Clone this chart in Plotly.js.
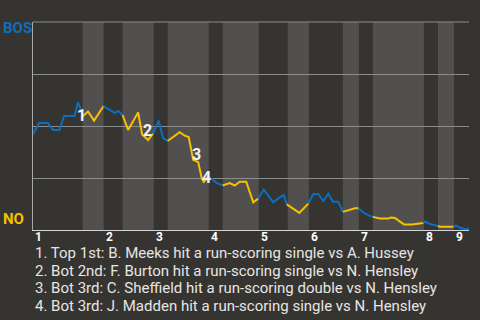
<!DOCTYPE html>
<html>
<head>
<meta charset="utf-8">
<script src="https://cdn.plot.ly/plotly-3.0.1.min.js"></script>
<style>
  html, body { margin: 0; padding: 0; background: #363430; }
  #chart { width: 480px; height: 320px; }
</style>
</head>
<body>
<div id="chart"></div>
<script>
// Win probability for BOS after each play (0 = NO wins, 100 = BOS wins)
const plays = [
  0, 1.2, 3.0, 4.0, 5.3, 6.2, 8.3, 9.0, 9.5, 9.9,
  11.0, 12.2, 14.1,
  15.3, 16.3, 17.1, 17.9,
  19.0, 21.0, 21.8, 23.0, 24.0,
  25.1, 26.0, 26.9,
  29.3, 30.3, 31.1, 32.0, 33.0, 33.7, 34.1, 35.1,
  36.6, 37.9,
  39.3, 40.3, 41.3, 42.6, 44.0, 45.0,
  46.1, 48.0, 49.0, 50.1, 50.7,
  51.3, 53.2, 55.0,
  56.0, 57.0, 58.0, 59.0, 59.9, 61.0, 61.9,
  63.0, 64.3, 65.0,
  66.0, 67.0, 67.9,
  69.3, 71.0, 71.5, 72.3, 73.3, 74.1, 75.7, 78.0,
  78.3, 79.3, 80.5, 80.9,
  81.3, 84.0,
  84.5, 85.3, 86.3, 87.1
];
const bosWp = [
  46.0, 51.4, 51.4, 48.1, 48.1, 54.8, 54.8, 61.5, 58.2, 54.6,
  57.0, 52.6, 59.6,
  58.0, 56.3, 57.2, 55.3,
  48.1, 56.5, 45.9, 43.3, 46.4,
  52.6, 44.1, 42.8,
  47.0, 45.4, 44.7, 33.7, 32.7, 24.9, 23.2, 25.7,
  22.8, 21.4,
  22.6, 21.4, 23.2, 23.2, 13.3, 15.1,
  19.5, 13.3, 15.2, 16.8, 12.3,
  11.3, 8.2, 12.7,
  17.3, 17.3, 13.9, 17.5, 13.6, 13.6, 8.7,
  9.4, 10.4, 10.4,
  8.4, 7.0, 6.3,
  5.5, 5.5, 6.0, 5.8, 4.3, 2.7, 2.7, 3.4,
  4.1, 2.9, 2.1, 1.9,
  1.6, 1.6,
  2.1, 1.1, 0.5, 0.5
];

// Play number where each half-inning begins (top 1st, bottom 1st, top 2nd, ...)
const halfStarts = [0, 9.9, 14.1, 17.9, 24.1, 26.9, 35.1, 37.9, 45.1, 50.9, 55.1, 61.9, 65.1, 67.9, 78.1, 80.9, 84.1];
const gameEnd = 87.1;
const inningLabels = ['1', '2', '3', '4', '5', '6', '7', '8', '9'];

const teams = ['BOS', 'NO'];

// Key scoring plays: index into the series, and the description
const keyPlayIdx = [7, 19, 28, 31];
const keyPlayText = [
  '1. Top 1st: B. Meeks hit a run-scoring single vs A. Hussey',
  '2. Bot 2nd: F. Burton hit a run-scoring single vs N. Hensley',
  '3. Bot 3rd: C. Sheffield hit a run-scoring double vs N. Hensley',
  '4. Bot 3rd: J. Madden hit a run-scoring single vs N. Hensley'
];

const BLUE = '#0b6fc1';
const GOLD = '#f7c000';
const GRID = '#8c8c8c';
const FONT = 'Roboto, "Open Sans", sans-serif';

function halfIndex(x) {
  let k = -1;
  halfStarts.forEach(s => { if (s < x) k++; });
  return k;
}

// Split the line into runs coloured by the team at bat
const traces = [];
let cur = null;
for (let i = 1; i < plays.length; i++) {
  const color = halfIndex(plays[i]) % 2 === 0 ? BLUE : GOLD;
  if (!cur || cur.line.color !== color) {
    cur = {
      type: 'scatter', mode: 'lines',
      x: [plays[i - 1]], y: [bosWp[i - 1]],
      line: { color: color, width: 2 },
      hoverinfo: 'skip', showlegend: false
    };
    traces.push(cur);
  }
  cur.x.push(plays[i]);
  cur.y.push(bosWp[i]);
}

// Shaded bands for the bottom halves
const shapes = [];
for (let k = 1; k < halfStarts.length; k += 2) {
  shapes.push({
    type: 'rect', layer: 'below',
    xref: 'x', yref: 'paper',
    x0: halfStarts[k], x1: k + 1 < halfStarts.length ? halfStarts[k + 1] : gameEnd,
    y0: 0, y1: 1,
    fillcolor: '#51504e', line: { width: 0 }
  });
}
// Top rule across the plot
shapes.push({
  type: 'line', layer: 'above', xref: 'paper', yref: 'paper',
  x0: 0, x1: 1, y0: 1, y1: 1,
  line: { color: GRID, width: 1 }
});

const annotations = [];

// Team labels at the ends of the scale
annotations.push({
  xref: 'paper', yref: 'paper', x: 0, y: 0.972, xshift: -32,
  xanchor: 'left', yanchor: 'middle', showarrow: false,
  text: '<b>' + teams[0] + '</b>', font: { family: FONT, size: 15, color: BLUE }
});
annotations.push({
  xref: 'paper', yref: 'paper', x: 0, y: 0.0505, xshift: -32,
  xanchor: 'left', yanchor: 'middle', showarrow: false,
  text: '<b>' + teams[1] + '</b>', font: { family: FONT, size: 15, color: GOLD }
});

// Inning numbers at the start of each top half
inningLabels.forEach((lab, i) => {
  annotations.push({
    xref: 'x', yref: 'paper', x: halfStarts[i * 2], y: -0.032,
    xanchor: 'left', yanchor: 'middle', showarrow: false,
    text: '<b>' + lab + '</b>', font: { family: FONT, size: 12, color: '#ffffff' }
  });
});

// Numbered markers next to the key plays
const markerShift = [[3, -13], [5, 4.5], [3.2, 5.8], [3.2, 3.9]];
keyPlayIdx.forEach((idx, i) => {
  annotations.push({
    xref: 'x', yref: 'y', x: plays[idx], y: bosWp[idx],
    xshift: markerShift[i][0], yshift: markerShift[i][1],
    xanchor: 'center', yanchor: 'middle', showarrow: false,
    text: '<b>' + (i + 1) + '</b>', font: { family: FONT, size: 16, color: '#f4f4f4' }
  });
});

// Descriptions of the key plays below the chart
const noteY = [-0.109, -0.195, -0.281, -0.367];
keyPlayText.forEach((t, i) => {
  annotations.push({
    xref: 'paper', yref: 'paper', x: 0, y: noteY[i],
    xanchor: 'left', yanchor: 'middle', showarrow: false,
    text: t, font: { family: FONT, size: 15, color: '#e6e6e6' }
  });
});

const layout = {
  width: 480, height: 320,
  margin: { l: 33, r: 11, t: 22, b: 90, pad: 0 },
  paper_bgcolor: '#363430', plot_bgcolor: '#363430',
  xaxis: {
    range: [0, gameEnd], showgrid: false, zeroline: false,
    showline: true, linecolor: '#d4d4d4', linewidth: 1,
    showticklabels: false, ticks: '', fixedrange: true
  },
  yaxis: {
    range: [0, 100], dtick: 25, showgrid: true, gridcolor: GRID, gridwidth: 1,
    zeroline: false, showline: true, linecolor: '#a8a8a8', linewidth: 1,
    showticklabels: false, ticks: '', fixedrange: true
  },
  shapes: shapes,
  annotations: annotations,
  showlegend: false,
  font: { family: FONT }
};

Plotly.newPlot('chart', traces, layout, { displayModeBar: false, staticPlot: true });
</script>
</body>
</html>
